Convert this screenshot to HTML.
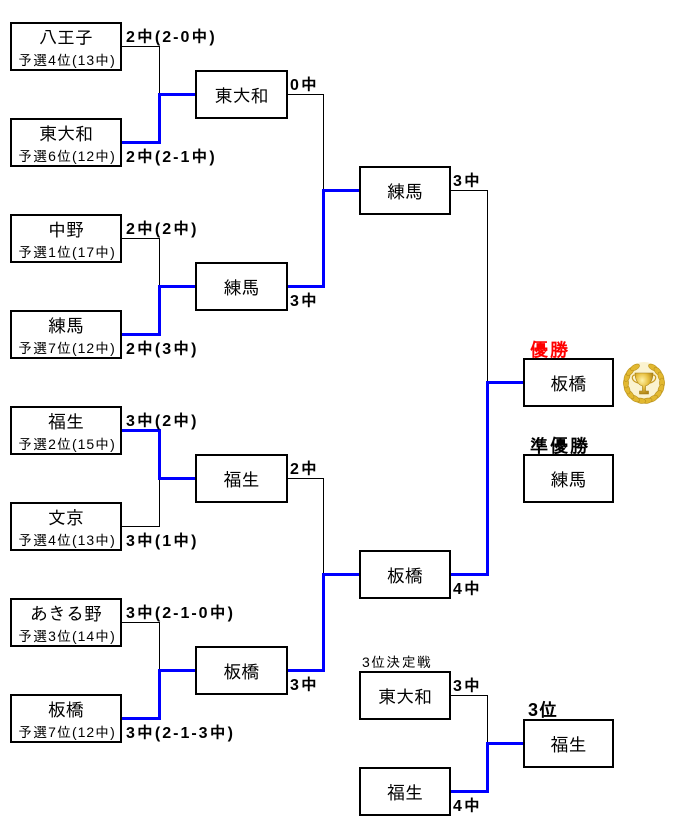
<!DOCTYPE html>
<html><head><meta charset="utf-8">
<style>
html,body{margin:0;padding:0;background:#fff;}
svg{display:block;}
.nm{font-family:"Liberation Sans","IPAGothic","Noto Sans CJK JP",sans-serif;font-size:18px;fill:#000;text-anchor:middle;}
.sb{font-family:"Liberation Sans","IPAGothic","Noto Sans CJK JP",sans-serif;font-size:14px;fill:#000;text-anchor:middle;letter-spacing:1px;}
.lb{font-family:"Liberation Sans","IPAGothic","Noto Sans CJK JP",sans-serif;font-size:16px;font-weight:bold;fill:#000;letter-spacing:2px;}
.hd{font-family:"Liberation Sans","IPAGothic","Noto Sans CJK JP",sans-serif;font-size:18px;font-weight:bold;letter-spacing:2px;}
.bx{fill:#fff;stroke:#000;stroke-width:2;}
.bk{fill:none;stroke:#000;stroke-width:1;}
.bl{fill:none;stroke:#0000ff;stroke-width:3;stroke-linejoin:miter;}
</style></head>
<body>
<svg width="677" height="834" viewBox="0 0 677 834" xmlns="http://www.w3.org/2000/svg">
<!-- loser lines -->
<path class="bk" d="M122 46.5H159.5V94.5"/>
<path class="bk" d="M122 238.5H159.5V286.5"/>
<path class="bk" d="M122 526.5H159.5V478.5"/>
<path class="bk" d="M122 622.5H159.5V670.5"/>
<path class="bk" d="M288 94.5H323.5V190.5"/>
<path class="bk" d="M288 478.5H323.5V574.5"/>
<path class="bk" d="M451 190.5H487.5V382.5"/>
<path class="bk" d="M451 695.5H487.5V743.5"/>
<!-- winner lines -->
<path class="bl" d="M122 142.5H159.5V94.5H195"/>
<path class="bl" d="M122 334.5H159.5V286.5H195"/>
<path class="bl" d="M122 430.5H159.5V478.5H195"/>
<path class="bl" d="M122 718.5H159.5V670.5H195"/>
<path class="bl" d="M288 286.5H323.5V190.5H359"/>
<path class="bl" d="M288 670.5H323.5V574.5H359"/>
<path class="bl" d="M451 574.5H487.5V382.5H523"/>
<path class="bl" d="M451 791.5H487.5V743.5H523"/>

<!-- left boxes -->
<rect class="bx" x="11" y="23" width="110" height="47"/>
<text class="nm" x="66" y="44">八王子</text><text class="sb" x="67" y="65">予選4位(13中)</text>
<rect class="bx" x="11" y="119" width="110" height="47"/>
<text class="nm" x="66" y="140">東大和</text><text class="sb" x="67" y="161">予選6位(12中)</text>
<rect class="bx" x="11" y="215" width="110" height="47"/>
<text class="nm" x="66" y="236">中野</text><text class="sb" x="67" y="257">予選1位(17中)</text>
<rect class="bx" x="11" y="311" width="110" height="47"/>
<text class="nm" x="66" y="332">練馬</text><text class="sb" x="67" y="353">予選7位(12中)</text>
<rect class="bx" x="11" y="407" width="110" height="47"/>
<text class="nm" x="66" y="428">福生</text><text class="sb" x="67" y="449">予選2位(15中)</text>
<rect class="bx" x="11" y="503" width="110" height="47"/>
<text class="nm" x="66" y="524">文京</text><text class="sb" x="67" y="545">予選4位(13中)</text>
<rect class="bx" x="11" y="599" width="110" height="47"/>
<text class="nm" x="66" y="620">あきる野</text><text class="sb" x="67" y="641">予選3位(14中)</text>
<rect class="bx" x="11" y="695" width="110" height="47"/>
<text class="nm" x="66" y="716">板橋</text><text class="sb" x="67" y="737">予選7位(12中)</text>

<!-- round 2 -->
<rect class="bx" x="196" y="71" width="91" height="47"/><text class="nm" x="241.5" y="102">東大和</text>
<rect class="bx" x="196" y="263" width="91" height="47"/><text class="nm" x="241.5" y="294">練馬</text>
<rect class="bx" x="196" y="455" width="91" height="47"/><text class="nm" x="241.5" y="486">福生</text>
<rect class="bx" x="196" y="647" width="91" height="47"/><text class="nm" x="241.5" y="678">板橋</text>

<!-- round 3 -->
<rect class="bx" x="360" y="167" width="90" height="47"/><text class="nm" x="405" y="198">練馬</text>
<rect class="bx" x="360" y="551" width="90" height="47"/><text class="nm" x="405" y="582">板橋</text>

<!-- final -->
<rect class="bx" x="524" y="359" width="89" height="47"/><text class="nm" x="568.5" y="390">板橋</text>
<rect class="bx" x="524" y="455" width="89" height="47"/><text class="nm" x="568.5" y="486">練馬</text>

<!-- 3rd place -->
<rect class="bx" x="360" y="672" width="90" height="47"/><text class="nm" x="405" y="703">東大和</text>
<rect class="bx" x="360" y="768" width="90" height="47"/><text class="nm" x="405" y="799">福生</text>
<rect class="bx" x="524" y="720" width="89" height="47"/><text class="nm" x="568.5" y="751">福生</text>

<!-- score labels -->
<text class="lb" x="126" y="42">2中(2-0中)</text>
<text class="lb" x="126" y="162">2中(2-1中)</text>
<text class="lb" x="126" y="234">2中(2中)</text>
<text class="lb" x="126" y="354">2中(3中)</text>
<text class="lb" x="126" y="426">3中(2中)</text>
<text class="lb" x="126" y="546">3中(1中)</text>
<text class="lb" x="126" y="618">3中(2-1-0中)</text>
<text class="lb" x="126" y="738">3中(2-1-3中)</text>
<text class="lb" x="290" y="90">0中</text>
<text class="lb" x="290" y="306">3中</text>
<text class="lb" x="290" y="474">2中</text>
<text class="lb" x="290" y="690">3中</text>
<text class="lb" x="453" y="186">3中</text>
<text class="lb" x="453" y="594">4中</text>
<text class="lb" x="453" y="691">3中</text>
<text class="lb" x="453" y="811">4中</text>

<!-- headings -->
<text class="hd" x="530" y="356" fill="#ff0000">優勝</text>
<text class="hd" x="530" y="452" fill="#000">準優勝</text>
<text class="hd" x="528" y="716" fill="#000" style="letter-spacing:1px">3位</text>
<text x="362" y="667" style="font-family:'Liberation Sans','IPAGothic','Noto Sans CJK JP',sans-serif;font-size:14px;letter-spacing:1.3px;fill:#000">3位決定戦</text>

<!-- trophy -->
<defs>
<radialGradient id="gd" cx="40%" cy="35%" r="70%">
<stop offset="0" stop-color="#fff2a8"/><stop offset="0.5" stop-color="#e8c040"/><stop offset="1" stop-color="#a87c10"/>
</radialGradient>
</defs>
<g transform="translate(644,383)" fill="url(#gd)">
<circle r="21" fill="#fbf3d0"/>
<g fill="#e2b830" stroke="#b8901c" stroke-width="0.6">
<ellipse rx="2.6" ry="5" transform="rotate(-60) translate(18 0)"/>
<ellipse rx="2.6" ry="5" transform="rotate(-40) translate(18 0)"/>
<ellipse rx="2.6" ry="5" transform="rotate(-20) translate(18 0)"/>
<ellipse rx="2.6" ry="5" transform="rotate(0) translate(18 0)"/>
<ellipse rx="2.6" ry="5" transform="rotate(20) translate(18 0)"/>
<ellipse rx="2.6" ry="5" transform="rotate(40) translate(18 0)"/>
<ellipse rx="2.6" ry="5" transform="rotate(60) translate(18 0)"/>
<ellipse rx="2.6" ry="5" transform="rotate(80) translate(18 0)"/>
<ellipse rx="2.6" ry="5" transform="rotate(100) translate(18 0)"/>
<ellipse rx="2.6" ry="5" transform="rotate(120) translate(18 0)"/>
<ellipse rx="2.6" ry="5" transform="rotate(140) translate(18 0)"/>
<ellipse rx="2.6" ry="5" transform="rotate(160) translate(18 0)"/>
<ellipse rx="2.6" ry="5" transform="rotate(180) translate(18 0)"/>
<ellipse rx="2.6" ry="5" transform="rotate(200) translate(18 0)"/>
<ellipse rx="2.6" ry="5" transform="rotate(220) translate(18 0)"/>
<ellipse rx="2.6" ry="5" transform="rotate(240) translate(18 0)"/>
</g>
<path d="M-9 -10 H9 C9 -2 5 2 1.5 3 V8 H4.5 V11 H-4.5 V8 H-1.5 V3 C-5 2 -9 -2 -9 -10 Z" fill="url(#gd)" stroke="#a07a10" stroke-width="0.6"/>
<path d="M-9 -8 C-13 -8 -13 -2 -6 0" fill="none" stroke="#c89a20" stroke-width="1.2"/>
<path d="M9 -8 C13 -8 13 -2 6 0" fill="none" stroke="#c89a20" stroke-width="1.2"/>
</g>
</svg>
</body></html>
